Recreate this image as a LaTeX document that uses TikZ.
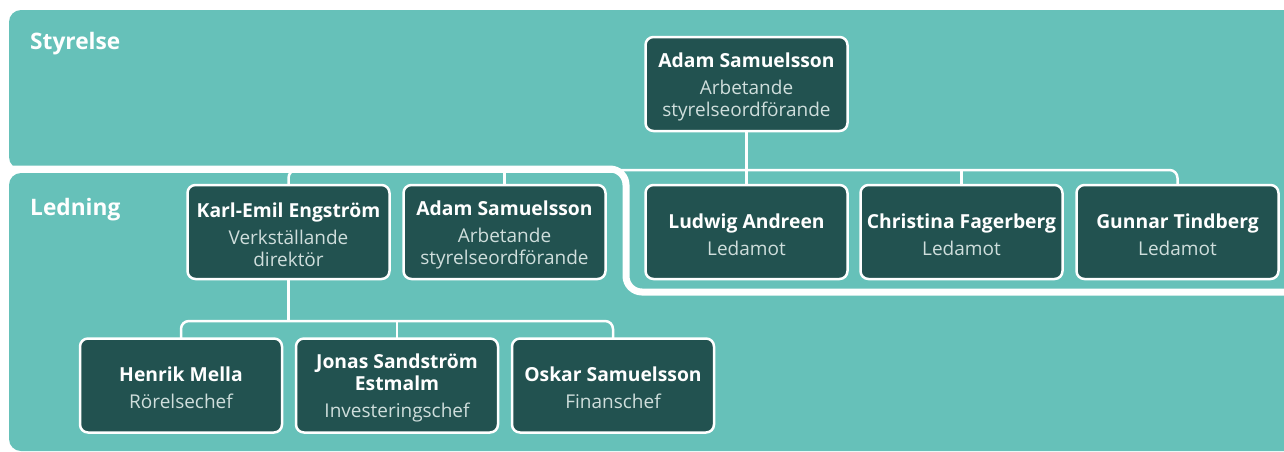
\documentclass[tikz,border=0pt]{standalone}
\usepackage{fontspec}
\setmainfont{Open Sans}
\usetikzlibrary{positioning}

\definecolor{regionteal}{HTML}{66C1B9}
\definecolor{boxgreen}{HTML}{225250}
\definecolor{roletext}{HTML}{CFDEDC}

\newcommand{\personname}[1]{{\fontsize{19.3}{22}\selectfont\bfseries #1}}
\newcommand{\personhead}[1]{\rule{0pt}{20pt}\personname{#1}}
\newcommand{\personrole}[1]{{\fontsize{19}{22}\selectfont\color{roletext}#1}}

\begin{document}
\begin{tikzpicture}[x=1pt, y=-1pt]
    \tikzset{
        member/.style={
            rectangle,
            rounded corners=8pt,
            draw=white,
            line width=2.5pt,
            fill=boxgreen,
            text=white,
            minimum width=202pt,
            minimum height=94pt,
            inner sep=2pt,
            outer sep=0pt,
            align=center,
            font=\fontsize{19}{22}\selectfont
        },
        link/.style={
            draw=white,
            line width=2.5pt,
            rounded corners=8pt
        },
        grouplabel/.style={
            anchor=west,
            text=white,
            inner sep=0pt,
            font=\fontsize{22.7}{26}\selectfont\bfseries
        }
    }

    \useasboundingbox (0,0) rectangle (1284,451);
    \clip (0,0) rectangle (1284,451);

    \fill[regionteal, rounded corners=12pt] (9,173) rectangle (1310,451);
    \fill[regionteal, rounded corners=12pt] (9,10) -- (1310,10) -- (1310,292) -- (626,292) -- (626,169) -- (9,169) -- cycle;
    \draw[white, line width=7pt, rounded corners=16pt] (0,169) -- (626,169) -- (626,292) -- (1310,292);

    \node[grouplabel] (boardlabel) at (30,44) {Styrelse};
    \node[grouplabel] (mgmtlabel) at (30,210) {Ledning};

    \node[member] (chairS) at (746.5,84) {\personhead{Adam Samuelsson}\\[5pt]\personrole{Arbetande}\\\personrole{styrelseordförande}};
    \node[member, below=54pt of chairS] (ludwig) {\personhead{Ludwig Andreen}\\[5pt]\personrole{Ledamot}};
    \node[member, right=13pt of ludwig] (christina) {\personhead{Christina Fagerberg}\\[5pt]\personrole{Ledamot}};
    \node[member, right=14pt of christina] (gunnar) {\personhead{Gunnar Tindberg}\\[5pt]\personrole{Ledamot}};
    \node[member, left=40pt of ludwig] (adamL) {\personhead{Adam Samuelsson}\\[5pt]\personrole{Arbetande}\\\personrole{styrelseordförande}};
    \node[member, left=14pt of adamL] (karl) {\personhead{Karl-Emil Engström}\\[5pt]\personrole{Verkställande}\\\personrole{direktör}};

    \node[member] (jonas) at (397,385.5) {\personhead{Jonas Sandström}\\\personname{Estmalm}\\[5pt]\personrole{Investeringschef}};
    \node[member, left=14pt of jonas] (henrik) {\personhead{Henrik Mella}\\[5pt]\personrole{Rörelsechef}};
    \node[member, right=14pt of jonas] (oskar) {\personhead{Oskar Samuelsson}\\[5pt]\personrole{Finanschef}};

    \coordinate (boardbus) at (0,170);
    \coordinate (staffbus) at (0,321);

    \draw[link] (karl.north) |- (boardbus -| chairS.south) -| (gunnar.north);
    \draw[link] (chairS.south) -- (chairS.south |- boardbus);
    \foreach \n in {adamL, ludwig, christina}
        \draw[link] (\n.north) -- (\n.north |- boardbus);

    \draw[link] (henrik.north) |- (staffbus -| jonas.north) -| (oskar.north);
    \draw[link] (karl.south) -- (karl.south |- staffbus);
    \draw[link] (jonas.north) -- (jonas.north |- staffbus);

\end{tikzpicture}
\end{document}
